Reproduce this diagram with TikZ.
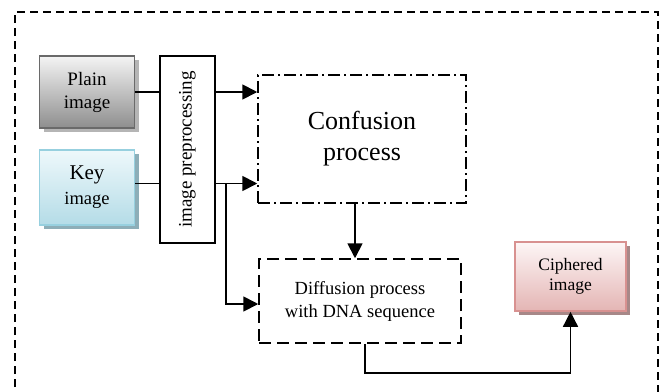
\documentclass[tikz,border=0pt]{standalone}
\usepackage{fontspec}
\setmainfont{Liberation Serif}
\usetikzlibrary{arrows.meta,shadows}
\definecolor{plainTop}{HTML}{F4F4F4}
\definecolor{plainBot}{HTML}{8E8E8E}
\definecolor{plainLine}{HTML}{6A6A6A}
\definecolor{plainShade}{HTML}{B5B5B5}
\definecolor{keyTop}{HTML}{EEF8FB}
\definecolor{keyBot}{HTML}{B4DCE7}
\definecolor{keyLine}{HTML}{97D0DF}
\definecolor{keyShade}{HTML}{8DAEB8}
\definecolor{ciphTop}{HTML}{FDF6F6}
\definecolor{ciphBot}{HTML}{E4B5B4}
\definecolor{ciphLine}{HTML}{D89190}
\definecolor{ciphShade}{HTML}{A78888}
\tikzset{
    imgbox/.style={draw, line width=1.6pt, minimum width=95pt, align=center, inner sep=0pt},
    shade4/.style={drop shadow={shadow xshift=4pt, shadow yshift=-4pt, fill=#1, opacity=1}},
    flow/.style={line width=1.8pt, -{Triangle[length=15pt,width=15pt]}},
}
\begin{document}
\begin{tikzpicture}[x=1pt, y=-1pt]
    \useasboundingbox (0,0) rectangle (666,391);
    \draw[line width=1.4pt, dash pattern=on 8pt off 5pt] (15,400) -- (15,12) -- (658,12) -- (658,400);
    % inputs
    \node[imgbox, minimum height=72pt, draw=plainLine, top color=plainTop, bottom color=plainBot,
        shade4=plainShade, font=\fontsize{19}{23}\selectfont] (plain) at (87,92) {Plain\\image};
    \node[imgbox, minimum height=75pt, draw=keyLine, top color=keyTop, bottom color=keyBot,
        shade4=keyShade, font=\fontsize{21}{25}\selectfont] (key) at (87,187.5)
        {Key\\{\fontsize{18.5}{25}\selectfont image}};
    \node[draw, line width=1.5pt, minimum width=55pt, minimum height=187pt] (prep) at (187.5,149.5) {};
    \node[rotate=90, font=\fontsize{19}{21}\selectfont] at (prep.center) {image preprocessing};
    % processes
    \node[draw, line width=1.5pt, dash pattern=on 12pt off 4pt on 2pt off 4pt, minimum width=208pt,
        minimum height=128pt, align=center, font=\fontsize{26}{31}\selectfont] (conf) at (362,139)
        {Confusion\\process};
    \node[draw, line width=1.5pt, dash pattern=on 12pt off 6pt, minimum width=202pt, minimum height=84pt,
        align=center, font=\fontsize{18.5}{23}\selectfont] (diff) at (360,301)
        {Diffusion process\\with DNA sequence};
    \node[imgbox, minimum width=111pt, minimum height=69pt, draw=ciphLine, top color=ciphTop,
        bottom color=ciphBot, shade4=ciphShade, font=\fontsize{17.5}{20}\selectfont] (ciph)
        at (570.5,276.5) {Ciphered\\image};
    % connectors
    \draw[line width=1.8pt] (plain.east) -- (plain.east -| prep.west);
    \draw[flow] (plain.east -| prep.east) -- (plain.east -| conf.west);
    \draw[line width=1.8pt] ([yshift=4pt]key.east) -- ([yshift=4pt]key.east -| prep.west);
    \draw[flow] ([yshift=4pt]key.east -| prep.east) -- ([yshift=4pt]key.east -| conf.west);
    \coordinate (split) at (226,183.5);
    \coordinate (turn) at (226,304);
    \draw[line width=1.4pt] (split) -- ([yshift=-0.9pt]turn);
    \draw[flow] (turn) -- (turn -| diff.west);
    \draw[flow] ([xshift=-7pt]conf.south) -- ([xshift=-7pt]conf.south |- diff.north);
    \draw[flow, line width=1.5pt] ([xshift=5pt]diff.south) -- ++(0,29) -| (ciph.south);
\end{tikzpicture}
\end{document}
